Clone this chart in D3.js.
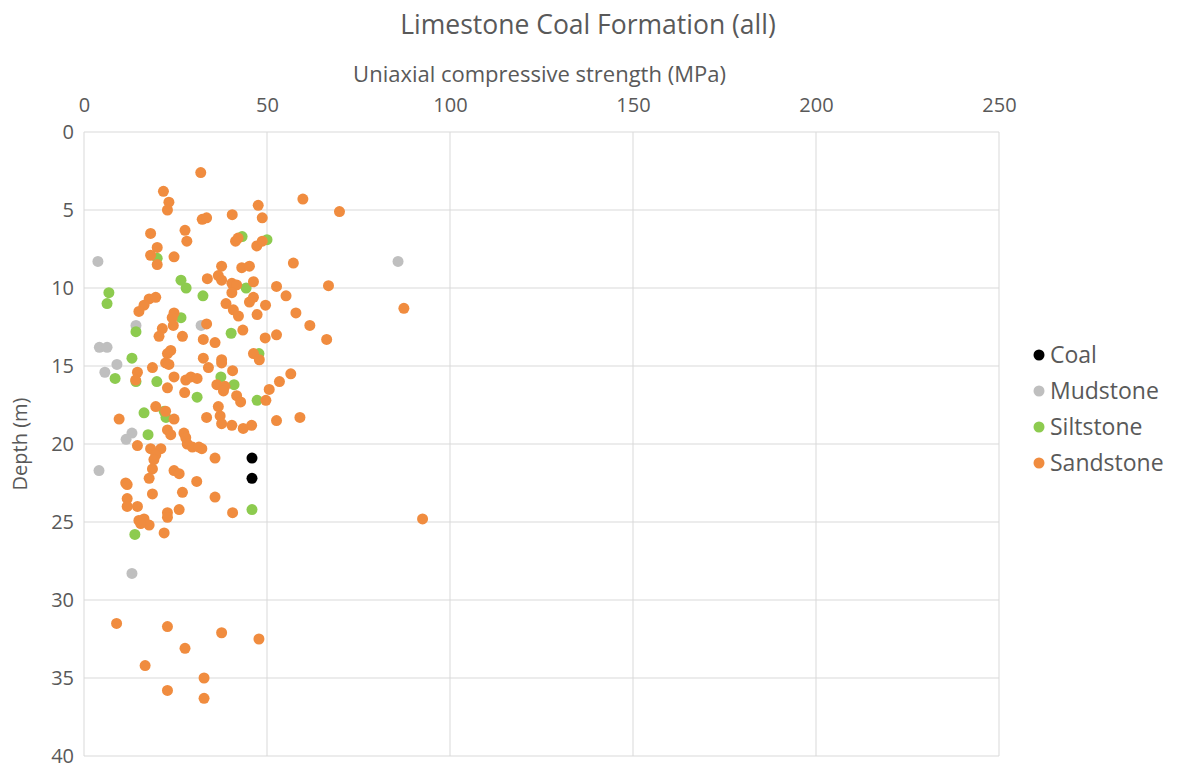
<!DOCTYPE html>
<html><head><meta charset="utf-8">
<script src="https://cdn.jsdelivr.net/npm/d3@7/dist/d3.min.js"></script>
<style>body{margin:0;background:#fff;} text{font-family:"Open Sans","Noto Sans",sans-serif;}</style>
</head><body>
<svg id="chart" width="1187" height="767"></svg>
<script>
const seriesNames = ["Coal","Mudstone","Siltstone","Sandstone"];
const seriesColors = ["#000000","#BFBFBF","#8DCB4F","#F08C3F"];
const xTicks = [0,50,100,150,200,250];
const yTicks = [0,5,10,15,20,25,30,35,40];

// [UCS (MPa), depth (m)]
const coal = [[45.9,20.9],[45.9,22.2]];
const mudstone = [[3.8,8.3],[85.8,8.3],[14.2,12.4],[32.0,12.4],[4.2,13.8],[6.3,13.8],[9.0,14.9],[5.7,15.4],[13.1,19.3],[11.5,19.7],[4.1,21.7],[13.1,28.3]];
const siltstone = [[43.2,6.7],[50.0,6.9],[20.0,8.1],[6.8,10.3],[6.3,11.0],[26.5,9.5],[27.9,10.0],[32.5,10.5],[44.3,10.0],[26.5,11.9],[14.2,12.8],[40.2,12.9],[13.1,14.5],[47.8,14.2],[8.5,15.8],[14.2,16.0],[19.9,16.0],[37.4,15.7],[41.0,16.2],[30.9,17.0],[47.3,17.2],[16.4,18.0],[21.9,17.9],[22.4,18.3],[17.5,19.4],[45.9,24.2],[13.9,25.8]];
const sandstone = [[31.9,2.6],[21.7,3.8],[23.2,4.5],[22.8,5.0],[47.6,4.7],[48.7,5.5],[40.5,5.3],[32.3,5.6],[33.5,5.5],[18.2,6.5],[27.6,6.3],[28.1,7.0],[41.4,7.0],[42.1,6.8],[47.2,7.3],[48.7,7.0],[20.0,7.4],[18.2,7.9],[24.6,8.0],[20.0,8.5],[59.8,4.3],[69.8,5.1],[57.2,8.4],[37.6,8.6],[43.1,8.7],[45.2,8.6],[33.7,9.4],[36.7,9.2],[37.6,9.5],[40.4,9.7],[41.7,9.8],[46.3,9.6],[52.6,9.9],[55.2,10.5],[66.8,9.85],[87.4,11.3],[40.4,10.3],[38.8,11.0],[40.8,11.4],[42.2,11.8],[45.2,10.9],[46.3,10.6],[47.3,11.7],[49.6,11.1],[57.9,11.6],[61.7,12.4],[66.3,13.3],[43.4,12.7],[49.5,13.2],[52.6,13.0],[33.5,12.3],[35.8,13.5],[32.6,13.3],[46.3,14.2],[47.9,14.6],[37.6,14.6],[37.6,14.8],[32.6,14.5],[34.0,15.1],[40.6,15.3],[56.5,15.5],[53.4,16.0],[50.6,16.5],[49.7,17.2],[36.3,16.2],[38.5,16.3],[38.1,16.6],[41.7,16.9],[42.8,17.3],[36.7,17.6],[33.5,18.3],[37.2,18.2],[37.6,18.7],[40.4,18.8],[43.5,19.0],[45.8,18.8],[52.6,18.5],[59.0,18.3],[32.2,20.3],[35.8,20.9],[30.8,22.4],[35.8,23.4],[40.6,24.4],[92.5,24.8],[17.8,10.7],[19.6,10.6],[16.4,11.1],[15.0,11.5],[24.6,11.6],[24.1,11.9],[21.4,12.6],[20.5,13.1],[24.4,12.4],[26.9,13.1],[23.7,14.0],[22.8,14.2],[22.3,14.8],[23.2,14.9],[18.7,15.1],[14.6,15.4],[14.1,15.9],[24.6,15.7],[27.8,15.9],[29.2,15.7],[30.9,15.8],[22.8,16.4],[27.5,16.7],[19.6,17.6],[9.6,18.4],[22.3,17.9],[24.6,18.4],[22.8,19.1],[23.7,19.4],[27.3,19.3],[27.8,19.6],[28.2,20.0],[29.6,20.2],[31.4,20.2],[14.6,20.1],[18.2,20.3],[21.0,20.3],[19.6,20.7],[19.1,21.0],[18.7,21.6],[17.8,22.2],[24.6,21.7],[26.0,21.9],[11.4,22.5],[11.8,22.6],[18.7,23.2],[26.9,23.1],[11.8,23.5],[11.8,24.0],[14.6,24.0],[22.8,24.4],[22.8,24.7],[26.0,24.2],[15.0,24.9],[16.4,24.8],[17.8,25.2],[15.5,25.1],[21.9,25.7],[8.9,31.5],[22.8,31.7],[37.6,32.1],[47.8,32.5],[27.6,33.1],[16.7,34.2],[32.8,35.0],[22.8,35.8],[32.8,36.3]];

const seriesData = [coal, mudstone, siltstone, sandstone];

const svg = d3.select("#chart");
const pLeft = 84, pRight = 999, pTop = 132, pBottom = 756;
const x = d3.scaleLinear().domain([0,250]).range([pLeft,pRight]);
const y = d3.scaleLinear().domain([0,40]).range([pTop,pBottom]);
const textColor = "#595959";
const fontFam = "'Open Sans','Noto Sans',sans-serif";

// gridlines
const g = svg.append("g");
g.selectAll("line.v").data(xTicks).join("line")
  .attr("x1",d=>x(d)).attr("x2",d=>x(d)).attr("y1",pTop).attr("y2",pBottom)
  .attr("stroke","#D9D9D9").attr("stroke-width",1);
g.selectAll("line.h").data(yTicks).join("line")
  .attr("y1",d=>y(d)).attr("y2",d=>y(d)).attr("x1",pLeft).attr("x2",pRight)
  .attr("stroke","#D9D9D9").attr("stroke-width",1);

// axes (tick labels)
const xAxis = svg.append("g").attr("transform",`translate(0,${pTop})`)
  .call(d3.axisTop(x).tickValues(xTicks).tickSize(0).tickPadding(20));
xAxis.select(".domain").remove();
xAxis.selectAll("text").attr("fill",textColor).style("font-size","20px").style("font-family",fontFam);

const yAxis = svg.append("g").attr("transform",`translate(${pLeft},0)`)
  .call(d3.axisLeft(y).tickValues(yTicks).tickSize(0).tickPadding(10));
yAxis.select(".domain").remove();
yAxis.selectAll("text").attr("fill",textColor).style("font-size","20px").style("font-family",fontFam);

// points
seriesData.forEach((data,i)=>{
  svg.append("g").selectAll("circle").data(data).join("circle")
    .attr("cx",d=>x(d[0])).attr("cy",d=>y(d[1])).attr("r",5.5)
    .attr("fill",seriesColors[i]);
});

// titles
svg.append("text").attr("x",588).attr("y",34).attr("text-anchor","middle")
  .attr("fill",textColor).style("font-size","26.5px").text("Limestone Coal Formation (all)");
svg.append("text").attr("x",(pLeft+pRight)/2-2).attr("y",82).attr("text-anchor","middle")
  .attr("fill",textColor).style("font-size","22px").text("Uniaxial compressive strength (MPa)");
svg.append("text").attr("transform",`translate(27,${(pTop+pBottom)/2}) rotate(-90)`).attr("text-anchor","middle")
  .attr("fill",textColor).style("font-size","20px").text("Depth (m)");

// legend
const leg = svg.append("g").attr("transform","translate(1039,355)");
seriesNames.forEach((n,i)=>{
  leg.append("circle").attr("cx",0).attr("cy",i*36).attr("r",5.5).attr("fill",seriesColors[i]);
  leg.append("text").attr("x",11).attr("y",i*36+8).attr("fill",textColor).style("font-size","23px").text(n);
});
</script>
</body></html>
